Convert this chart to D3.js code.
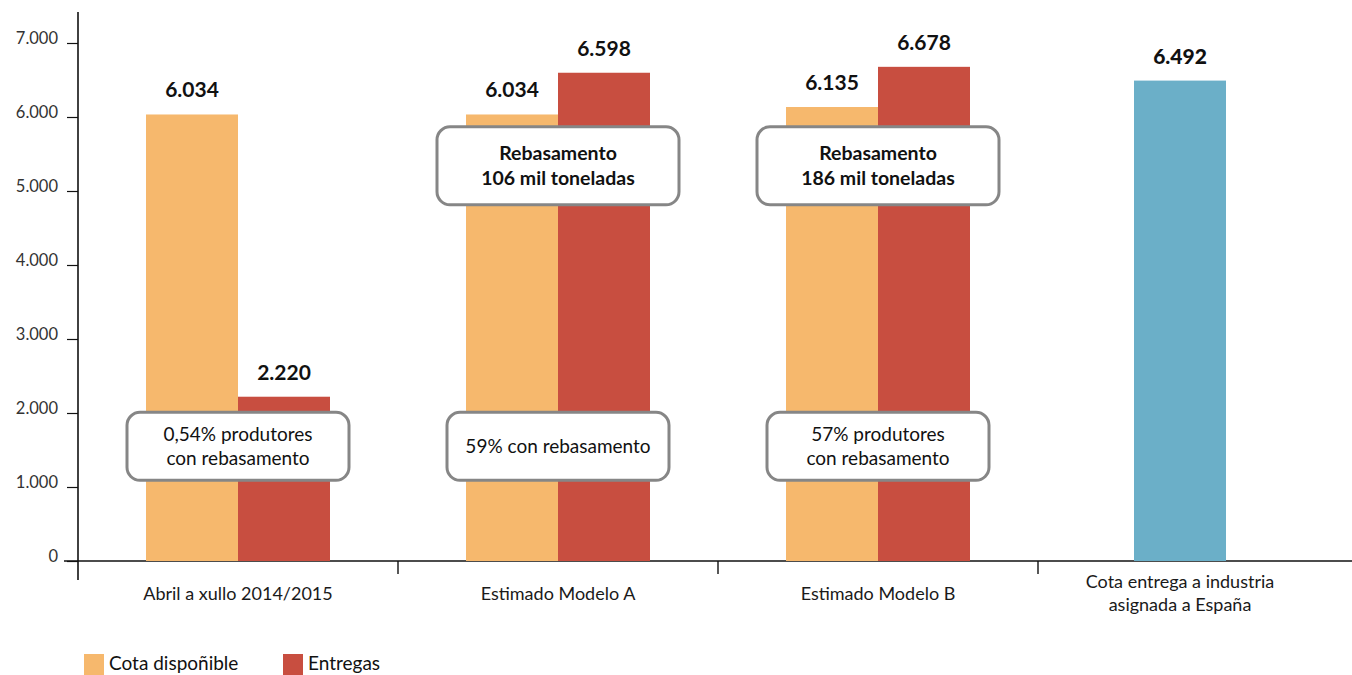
<!DOCTYPE html>
<html>
<head>
<meta charset="utf-8">
<script src="https://cdn.jsdelivr.net/npm/d3@7"></script>
<style>
  html, body { margin: 0; padding: 0; background: #fff; }
  svg { display: block; font-family: Lato, "Noto Sans", sans-serif; }
</style>
</head>
<body>
<svg id="chart" width="1352" height="675"></svg>
<script>
// ---- data ----
const categories = [
  ["Abril a xullo 2014/2015"],
  ["Estimado Modelo A"],
  ["Estimado Modelo B"],
  ["Cota entrega a industria", "asignada a España"]
];
const seriesNames = ["Cota dispoñible", "Entregas"];
const cotaDisponible = [6034, 6034, 6135, null];
const entregas = [2220, 6598, 6678, null];
const cotaAsignada = [null, null, null, 6492];
const yTicks = [0, 1000, 2000, 3000, 4000, 5000, 6000, 7000];
const boxesLow = [
  ["0,54% produtores", "con rebasamento"],
  ["59% con rebasamento"],
  ["57% produtores", "con rebasamento"],
  null
];
const boxesHigh = [
  null,
  ["Rebasamento", "106 mil toneladas"],
  ["Rebasamento", "186 mil toneladas"],
  null
];
const boxLowValue = 1550;
const boxHighValue = 5340;

// ---- setup ----
const colors = { cota: "#F6B86D", entregas: "#C84E40", asignada: "#6BAFC8" };
const svg = d3.select("#chart");
const locale = d3.formatLocale({ decimal: ",", thousands: ".", grouping: [3] });
const fmt = locale.format(",d");

const catKeys = categories.map((c, i) => i);
const x0 = d3.scaleBand().domain(catKeys).range([78, 1358]).padding(0);
const pairW = 184;
const x1 = d3.scaleBand().domain(["cota", "entregas"]).range([0, pairW]);
const y = d3.scaleLinear().domain([0, 7000]).range([561, 43]);

// ---- axes ----
svg.append("line").attr("x1", 64).attr("x2", 1352).attr("y1", y(0)).attr("y2", y(0))
  .attr("stroke", "#111").attr("stroke-width", 1.6);
svg.append("line").attr("x1", 78).attr("x2", 78).attr("y1", 12).attr("y2", 580)
  .attr("stroke", "#111").attr("stroke-width", 1.6);

const yAxis = d3.axisLeft(y).tickValues(yTicks).tickSize(11).tickPadding(9)
  .tickFormat(d => d === 0 ? "0" : fmt(d));
const gy = svg.append("g").attr("transform", "translate(78,0)").call(yAxis);
gy.select(".domain").remove();
gy.selectAll(".tick line").attr("stroke", "#111").attr("stroke-width", 1.2);
gy.selectAll(".tick text").attr("font-size", 16.5).attr("fill", "#333")
  .attr("font-family", "Lato, sans-serif").attr("dy", "0em");

// category ticks
svg.append("g").selectAll("line").data(catKeys.slice(1)).join("line")
  .attr("x1", d => x0(d)).attr("x2", d => x0(d))
  .attr("y1", y(0)).attr("y2", y(0) + 13)
  .attr("stroke", "#111").attr("stroke-width", 1.4);

// category labels
const singleCenter = i => x0(i) + x0.bandwidth() * 0.3 + x1.bandwidth() / 2;
const catCenter = i => cotaAsignada[i] != null ? singleCenter(i) : x0(i) + x0.bandwidth() / 2;
svg.append("g").selectAll("text").data(categories).join("text")
  .attr("x", (d, i) => catCenter(i))
  .attr("y", (d) => d.length > 1 ? 588 : 600)
  .attr("text-anchor", "middle").attr("font-size", 18).attr("fill", "#1a1a1a")
  .selectAll("tspan").data(d => d).join("tspan")
  .attr("x", function () { return d3.select(this.parentNode).attr("x"); })
  .attr("dy", (d, j) => j === 0 ? 0 : 23)
  .text(d => d);

// ---- bars ----
const pairOffset = (x0.bandwidth() - pairW) / 2;
const bars = [];
catKeys.forEach(i => {
  if (cotaDisponible[i] != null) bars.push({ i, key: "cota", v: cotaDisponible[i], x: x0(i) + pairOffset + x1("cota") });
  if (entregas[i] != null) bars.push({ i, key: "entregas", v: entregas[i], x: x0(i) + pairOffset + x1("entregas") });
  if (cotaAsignada[i] != null) bars.push({ i, key: "asignada", v: cotaAsignada[i], x: x0(i) + x0.bandwidth() * 0.3 });
});
svg.append("g").selectAll("rect").data(bars).join("rect")
  .attr("x", d => d.x).attr("width", x1.bandwidth())
  .attr("y", d => y(d.v)).attr("height", d => y(0) - y(d.v))
  .attr("fill", d => colors[d.key]);

// value labels
svg.append("g").selectAll("text").data(bars).join("text")
  .attr("x", d => d.x + x1.bandwidth() / 2)
  .attr("y", d => y(d.v) - 17)
  .attr("text-anchor", "middle")
  .attr("font-size", 21)
  .attr("font-weight", d => d.key === "asignada" ? 900 : 700)
  .attr("fill", "#111")
  .text(d => fmt(d.v));

// ---- annotation boxes ----
function drawBoxes(list, value, w, h, bold, fs, lh) {
  const g = svg.append("g");
  list.forEach((lines, i) => {
    if (!lines) return;
    const cx = x0(i) + x0.bandwidth() / 2;
    const cy = y(value);
    g.append("rect").attr("x", cx - w / 2).attr("y", cy - h / 2)
      .attr("width", w).attr("height", h).attr("rx", 13).attr("ry", 13)
      .attr("fill", "#fff").attr("stroke", "#868686").attr("stroke-width", 3);
    const t = g.append("text").attr("text-anchor", "middle")
      .attr("font-size", fs).attr("font-weight", bold ? 700 : 400).attr("fill", "#111");
    lines.forEach((ln, j) => {
      t.append("tspan").attr("x", cx)
        .attr("y", cy + (j - (lines.length - 1) / 2) * lh + 6.5)
        .text(ln);
    });
  });
}
drawBoxes(boxesLow, boxLowValue, 222, 68, false, 19, 24);
drawBoxes(boxesHigh, boxHighValue, 242, 78, true, 19.5, 25);

// ---- legend ----
const legendKeys = [["cota", seriesNames[0], 84], ["entregas", seriesNames[1], 283]];
const lg = svg.append("g");
legendKeys.forEach(([k, name, lx]) => {
  lg.append("rect").attr("x", lx).attr("y", 654).attr("width", 20).attr("height", 21).attr("fill", colors[k]);
  lg.append("text").attr("x", lx + 25).attr("y", 670).attr("font-size", 19).attr("fill", "#111").text(name);
});
</script>
</body>
</html>
